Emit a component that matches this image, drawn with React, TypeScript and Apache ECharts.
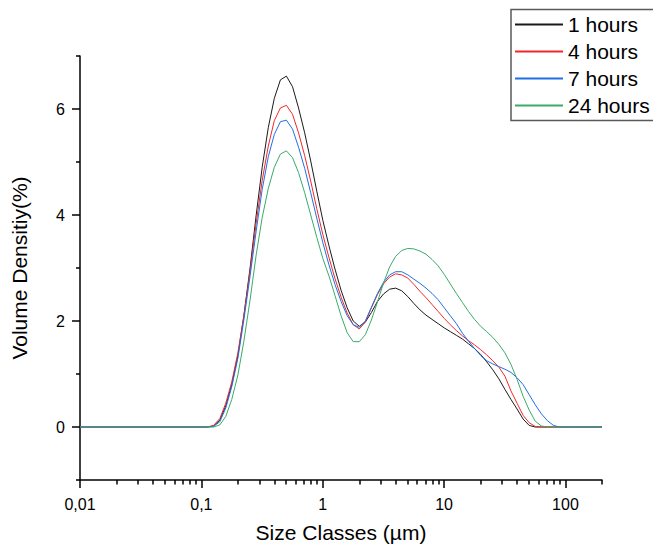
import React, { useEffect, useRef } from "react";
import * as echarts from "echarts";

// Size classes (µm), Malvern-style log spaced classes
const sizeClasses = [
  0.01,
  0.1, 0.112, 0.126, 0.142, 0.159, 0.178, 0.2, 0.224, 0.252, 0.283,
  0.317, 0.356, 0.399, 0.448, 0.502, 0.564, 0.632, 0.71, 0.796, 0.893,
  1.002, 1.125, 1.262, 1.416, 1.589, 1.783, 2.0, 2.244, 2.518, 2.825,
  3.17, 3.557, 3.991, 4.477, 5.024, 5.637, 6.325, 7.096, 7.962, 8.934,
  10.024, 11.247, 12.619, 14.159, 15.887, 17.825, 20.0, 22.44, 25.179, 28.251,
  31.698, 35.566, 39.905, 44.774, 50.238, 56.368, 63.246, 70.963, 79.621, 89.337,
  100.237, 112.468, 126.191, 141.589, 158.866, 178.25, 200,
];

const hours1 = [
  0,
  0, 0, 0.02, 0.13, 0.4, 0.8, 1.35, 2.1, 3.0, 4.0,
  4.9, 5.65, 6.2, 6.55, 6.62, 6.42, 6.02, 5.55, 5.02, 4.45,
  3.9, 3.42, 2.98, 2.58, 2.25, 2.0, 1.9, 1.98, 2.16, 2.37,
  2.51, 2.6, 2.62, 2.57, 2.46, 2.33, 2.21, 2.11, 2.03, 1.95,
  1.87, 1.8, 1.73, 1.66, 1.57, 1.48, 1.37, 1.23, 1.08, 0.91,
  0.71, 0.52, 0.34, 0.15, 0.03, 0, 0, 0, 0, 0,
  0, 0, 0, 0, 0, 0, 0,
];

const hours4 = [
  0,
  0, 0, 0.03, 0.16, 0.45, 0.85, 1.4, 2.1, 2.95, 3.85,
  4.65, 5.3, 5.78, 6.02, 6.07, 5.9, 5.55, 5.12, 4.64, 4.12,
  3.63, 3.2, 2.8, 2.45, 2.15, 1.93, 1.85, 1.98, 2.25, 2.5,
  2.7, 2.83, 2.89, 2.87, 2.81, 2.69, 2.56, 2.44, 2.31, 2.18,
  2.05, 1.93, 1.82, 1.72, 1.63, 1.55, 1.46, 1.36, 1.25, 1.13,
  0.96, 0.68, 0.45, 0.22, 0.08, 0.01, 0, 0, 0, 0,
  0, 0, 0, 0, 0, 0, 0,
];

const hours7 = [
  0,
  0, 0, 0.01, 0.1, 0.36, 0.76, 1.3, 2.02, 2.85, 3.7,
  4.48, 5.1, 5.52, 5.76, 5.79, 5.62, 5.28, 4.88, 4.42, 3.94,
  3.48, 3.06, 2.69, 2.37, 2.1, 1.93, 1.88, 2.0, 2.26, 2.52,
  2.73, 2.87, 2.93, 2.93, 2.87, 2.79, 2.71, 2.62, 2.52, 2.4,
  2.25, 2.1, 1.95, 1.77, 1.62, 1.48, 1.35, 1.25, 1.19, 1.14,
  1.09, 1.03, 0.93, 0.8, 0.61, 0.42, 0.25, 0.12, 0.03, 0,
  0, 0, 0, 0, 0, 0, 0,
];

const hours24 = [
  0,
  0, 0, 0, 0.04, 0.2, 0.52, 0.98, 1.62, 2.4, 3.25,
  3.95, 4.5, 4.9, 5.15, 5.21, 5.08, 4.8, 4.42, 4.0, 3.58,
  3.18, 2.85, 2.48, 2.1, 1.78, 1.61, 1.61, 1.74, 2.02, 2.36,
  2.72, 3.02, 3.22, 3.33, 3.37, 3.36, 3.32, 3.26, 3.16, 3.04,
  2.88, 2.7, 2.52, 2.35, 2.18, 2.03, 1.9, 1.8, 1.69, 1.56,
  1.4, 1.18, 0.9, 0.58, 0.32, 0.11, 0.02, 0, 0, 0,
  0, 0, 0, 0, 0, 0, 0,
];

const seriesNames = ["1 hours", "4 hours", "7 hours", "24 hours"];
const seriesValues = [hours1, hours4, hours7, hours24];
const seriesColors = ["#1a1a1a", "#f02828", "#1f6fe5", "#3aaa6a"];

const xTickValues = [0.01, 0.1, 1, 10, 100];
const xTickLabels = ["0,01", "0,1", "1", "10", "100"];
const xMinorMultipliers = [2, 3, 4, 5, 6, 7, 8, 9];
const yTickValues = [0, 2, 4, 6];
const yTickLabels = ["0", "2", "4", "6"];
const yMinorTicks = [-1, 1, 3, 5, 7];

const X_MIN = 0.01;
const X_MAX = 200;
const Y_MIN = -1;
const Y_MAX = 7;

const FONT = '"Liberation Sans", Arial, Helvetica, sans-serif';

export default function App() {
  const ref = useRef<HTMLDivElement>(null);

  useEffect(() => {
    if (!ref.current) return;
    const chart = echarts.init(ref.current, undefined, { renderer: "svg" });

    const logMin = Math.log10(X_MIN);
    const logMax = Math.log10(X_MAX);
    const xMajor = xTickValues.map((v) => Math.log10(v));
    const xMinor: number[] = [];
    xTickValues.forEach((d) => {
      xMinorMultipliers.forEach((m) => {
        const v = d * m;
        if (v <= X_MAX * 1.0000001) xMinor.push(Math.log10(v));
      });
    });
    const xMinorClamped = xMinor.map((v) => Math.min(v, logMax));

    const gridRect = { left: 80, top: 56, right: 51, bottom: 70 };
    const axisColor = "#000";
    const lineStyle = { color: axisColor, width: 1.5 };

    const option: any = {
      animation: false,
      backgroundColor: "#fff",
      textStyle: { fontFamily: FONT },
      grid: [
        { ...gridRect },
        { ...gridRect },
        { ...gridRect },
      ],
      graphic: [
        {
          type: "rect",
          silent: true,
          shape: { x: 511, y: 9.5, width: 170, height: 111 },
          style: { fill: "none", stroke: "#5a5a5a", lineWidth: 1.5 },
        },
      ],
      legend: {
        orient: "vertical",
        left: 511,
        top: 9,
        padding: [5, 4, 4, 3],
        itemWidth: 48,
        itemHeight: 21,
        itemGap: 6,
        borderWidth: 0,
        selectedMode: false,
        data: seriesNames,
        itemStyle: { opacity: 0 },
        textStyle: {
          fontSize: 21,
          lineHeight: 21,
          color: "#000",
          fontFamily: FONT,
        },
      },
      xAxis: [
        {
          gridIndex: 0,
          type: "log",
          logBase: 10,
          min: X_MIN,
          max: X_MAX,
          axisLine: { show: true, onZero: false, lineStyle },
          axisTick: { show: false },
          axisLabel: { show: false },
          splitLine: { show: false },
          minorTick: { show: false },
          minorSplitLine: { show: false },
        },
        {
          gridIndex: 1,
          type: "value",
          min: logMin,
          max: logMax,
          axisLine: { show: false, onZero: false },
          axisTick: {
            show: true,
            inside: false,
            length: 8,
            customValues: xMajor,
            lineStyle,
          },
          axisLabel: {
            show: true,
            customValues: xMajor,
            margin: 16,
            fontSize: 16,
            color: "#000",
            fontFamily: FONT,
            formatter: (v: number) => {
              const i = xMajor.findIndex((t) => Math.abs(t - v) < 1e-6);
              return i >= 0 ? xTickLabels[i] : "";
            },
          },
          splitLine: { show: false },
          name: "Size Classes (µm)",
          nameLocation: "middle",
          nameGap: 42,
          nameTextStyle: { fontSize: 21, color: "#000", fontFamily: FONT },
        },
        {
          gridIndex: 2,
          type: "value",
          min: logMin,
          max: logMax,
          axisLine: { show: false, onZero: false },
          axisTick: {
            show: true,
            inside: false,
            length: 4.5,
            customValues: xMinorClamped,
            lineStyle,
          },
          axisLabel: { show: false },
          splitLine: { show: false },
        },
      ],
      yAxis: [
        {
          gridIndex: 0,
          type: "value",
          min: Y_MIN,
          max: Y_MAX,
          axisLine: { show: true, onZero: false, lineStyle },
          axisTick: { show: false },
          axisLabel: { show: false },
          splitLine: { show: false },
        },
        {
          gridIndex: 1,
          type: "value",
          min: Y_MIN,
          max: Y_MAX,
          axisLine: { show: false, onZero: false },
          axisTick: {
            show: true,
            inside: false,
            length: 8,
            customValues: yTickValues,
            lineStyle,
          },
          axisLabel: {
            show: true,
            customValues: yTickValues,
            margin: 15,
            fontSize: 16,
            color: "#000",
            fontFamily: FONT,
            formatter: (v: number) => {
              const i = yTickValues.findIndex((t) => Math.abs(t - v) < 1e-9);
              return i >= 0 ? yTickLabels[i] : "";
            },
          },
          splitLine: { show: false },
          name: "Volume Densitiy(%)",
          nameLocation: "middle",
          nameGap: 50,
          nameTextStyle: { fontSize: 21, color: "#000", fontFamily: FONT },
        },
        {
          gridIndex: 2,
          type: "value",
          min: Y_MIN,
          max: Y_MAX,
          axisLine: { show: false, onZero: false },
          axisTick: {
            show: true,
            inside: false,
            length: 4,
            customValues: yMinorTicks,
            lineStyle,
          },
          axisLabel: { show: false },
          splitLine: { show: false },
        },
      ],
      series: seriesNames.map((name, si) => ({
        name,
        type: "line",
        xAxisIndex: 0,
        yAxisIndex: 0,
        symbol: "none",
        showSymbol: false,
        smooth: false,
        color: seriesColors[si],
        lineStyle: { color: seriesColors[si], width: 1 },
        data: sizeClasses.map((s, i) => [s, seriesValues[si][i]]),
      })),
    };

    chart.setOption(option);
    return () => chart.dispose();
  }, []);

  return (
    <div
      ref={ref}
      style={{ position: "absolute", left: 0, top: 0, width: 653, height: 550 }}
    />
  );
}
